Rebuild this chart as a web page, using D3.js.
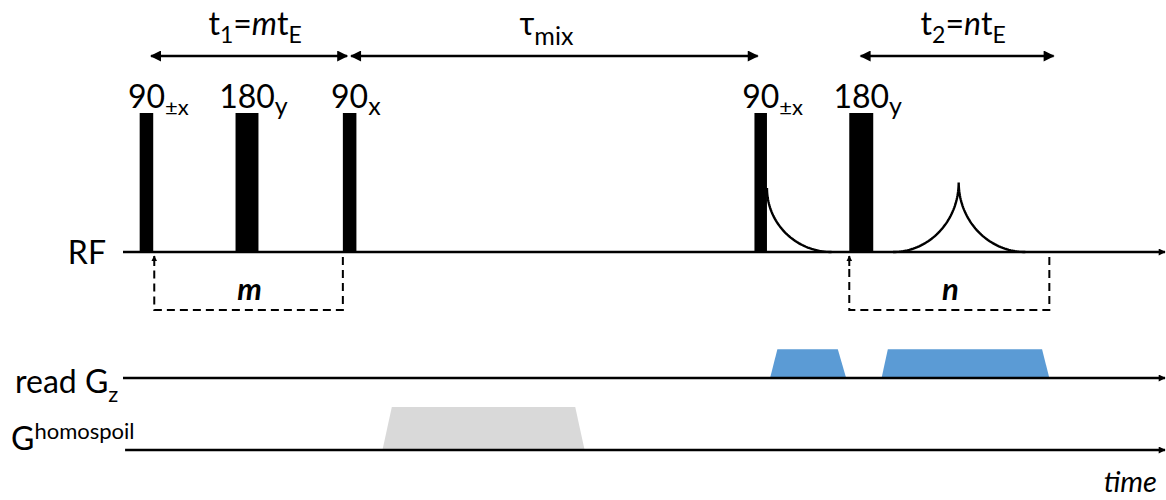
<!DOCTYPE html>
<html>
<head>
<meta charset="utf-8">
<script src="https://cdn.jsdelivr.net/npm/d3@7"></script>
<style>
  body { margin: 0; background: #fff; }
  text { font-family: Lato, "Open Sans", sans-serif; fill: #000; }
</style>
</head>
<body>
<script>
// time in arbitrary units, 0..100 along the axes
var pulseStart = [1.6, 10.8, 21.1, 60.6, 69.7]
var pulseEnd = [2.9, 13.0, 22.4, 61.8, 72.0]
var pulseAngle = ["90", "180", "90", "90", "180"]
var pulsePhase = ["±x", "y", "x", "±x", "y"]

var fid = [61.8, 68.0]      // start, end
var fidAmp = 0.46
var echo = [73.9, 80.2, 86.6] // start, peak, end
var echoAmp = 0.5

var readGrads = [[62.1, 62.8, 68.6, 69.4], [72.8, 73.4, 88.2, 88.9]]
var readAmp = 0.67
var spoilGrads = [[24.9, 25.8, 43.4, 44.3]]
var spoilAmp = 1

var spanFrom = [2.6, 21.8, 70.7]
var spanTo = [21.6, 61.0, 89.4]
var spanLabels = [["t", "1", "=", "m", "t", "E"], ["τ", "mix"], ["t", "2", "=", "n", "t", "E"]]

var loopFrom = [3.0, 69.7]
var loopTo = [21.1, 88.9]
var loopLabels = ["m", "n"]

var W = 1166, H = 500

var svg = d3.select("body")
.append("svg")
.attr("width", W)
.attr("height", H);

var x = d3.scaleLinear().domain([0, 100]).range([123, 1165])
var rfY = d3.scaleLinear().domain([0, 1]).range([252, 113])
var readY = d3.scaleLinear().domain([0, 1]).range([378, 335])
var spoilY = d3.scaleLinear().domain([0, 1]).range([450, 407])

var defs = svg.append("defs")

function marker(id, w, h) {
	defs.append("marker")
		.attr("id", id)
		.attr("viewBox", "0 0 10 10")
		.attr("refX", 9)
		.attr("refY", 5)
		.attr("markerUnits", "userSpaceOnUse")
		.attr("markerWidth", w)
		.attr("markerHeight", h)
		.attr("orient", "auto-start-reverse")
		.append("path")
		.attr("d", "M0,0L10,5L0,10z")
		.attr("fill", "#000");
}
marker("big", 12, 11)
marker("axis", 8, 7)
marker("small", 6, 6)

// gradient trapezoids first so the axes sit on top
function trap(rows, yScale, amp, color) {
	svg.selectAll(null)
		.data(rows)
		.enter()
		.append("path")
		.attr("fill", color)
		.attr("d", function(g) {
			return d3.line()([
				[x(g[0]), yScale(0)], [x(g[1]), yScale(amp)],
				[x(g[2]), yScale(amp)], [x(g[3]), yScale(0)]
			]) + "Z"
		});
}
trap(readGrads, readY, readAmp, "#5b9bd5")
trap(spoilGrads, spoilY, spoilAmp, "#d9d9d9")

// axes
var axisRows = [[rfY(0), 0], [readY(0), 0], [spoilY(0), 0.2]]
axisRows.forEach(function(r) {
	svg.append("line")
		.attr("x1", x(r[1]))
		.attr("x2", x(100))
		.attr("y1", r[0])
		.attr("y2", r[0])
		.attr("stroke", "#000")
		.attr("stroke-width", 2.4)
		.attr("marker-end", "url(#axis)");
})

// RF pulses
svg.selectAll(".pulse")
	.data(pulseStart)
	.enter()
	.append("rect")
	.attr("class", "pulse")
	.attr("x", function(d) { return x(d) })
	.attr("width", function(d, i) { return x(pulseEnd[i]) - x(d) })
	.attr("y", rfY(1))
	.attr("height", rfY(0) - rfY(1))
	.attr("fill", "#000");

pulseStart.forEach(function(d, i) {
	var cx = (x(d) + x(pulseEnd[i])) / 2
	var t = svg.append("text").attr("y", rfY(1) - 5).style("font-size", "32px")
	var main = t.append("tspan").text(pulseAngle[i])
	var len = main.node().getComputedTextLength()
	t.attr("x", cx - len / 2)
	t.append("tspan")
		.attr("dy", 7)
		.style("font-size", pulsePhase[i] == "±x" ? "22px" : "25px")
		.text(pulsePhase[i]);
})

// FID and echo drawn as quarter ellipses
var line = d3.line()
var q = d3.range(0, 1.0001, 0.02)

var fidPts = q.map(function(s) {
	var a = s * Math.PI / 2
	return [x(fid[1]) - (x(fid[1]) - x(fid[0])) * Math.cos(a),
		rfY(fidAmp) + (rfY(0) - rfY(fidAmp)) * Math.sin(a)]
})
svg.append("path").attr("d", line(fidPts))
	.attr("fill", "none").attr("stroke", "#000").attr("stroke-width", 2.4);

var echoUp = q.map(function(s) {
	var a = s * Math.PI / 2
	return [x(echo[0]) + (x(echo[1]) - x(echo[0])) * Math.sin(a),
		rfY(echoAmp) + (rfY(0) - rfY(echoAmp)) * Math.cos(a)]
})
var echoDown = q.map(function(s) {
	var a = s * Math.PI / 2
	return [x(echo[2]) - (x(echo[2]) - x(echo[1])) * Math.cos(a),
		rfY(echoAmp) + (rfY(0) - rfY(echoAmp)) * Math.sin(a)]
})
svg.append("path").attr("d", line(echoUp.concat(echoDown)))
	.attr("fill", "none").attr("stroke", "#000").attr("stroke-width", 2.4);

// timing spans on top
spanFrom.forEach(function(d, i) {
	svg.append("line")
		.attr("x1", x(d) + 1)
		.attr("x2", x(spanTo[i]) - 1)
		.attr("y1", 56)
		.attr("y2", 56)
		.attr("stroke", "#000")
		.attr("stroke-width", 2.4)
		.attr("marker-start", "url(#big)")
		.attr("marker-end", "url(#big)");

	var parts = spanLabels[i]
	var t = svg.append("text").attr("y", 35).style("font-size", "32px")
	parts.forEach(function(p, k) {
		var ts = t.append("tspan").text(p)
		if (parts.length == 2 && k == 1) ts.attr("dy", 10).style("font-size", "25px")
		if (parts.length == 6) {
			if (k == 1 || k == 5) ts.attr("dy", 8).style("font-size", "23px")
			if (k == 2) ts.attr("dy", -8)
			if (k == 3) ts.style("font-style", "italic")
		}
	})
	var w = t.node().getComputedTextLength()
	var shift = parts.length == 2 ? -8 : 6
	t.attr("x", (x(d) + x(spanTo[i])) / 2 - w / 2 + shift)
})

// dashed loop brackets under RF
loopFrom.forEach(function(d, i) {
	var g = svg.append("g")
		.attr("fill", "none")
		.attr("stroke", "#000")
		.attr("stroke-width", 2)
		.attr("stroke-dasharray", "8,5")
	g.append("path")
		.attr("d", "M" + x(loopTo[i]) + "," + (rfY(0) + 5) + "V310H" + x(d) + "V" + (rfY(0) + 14));
	svg.append("line")
		.attr("x1", x(d)).attr("x2", x(d))
		.attr("y1", rfY(0) + 14).attr("y2", rfY(0) + 4)
		.attr("stroke", "#000").attr("stroke-width", 2)
		.attr("marker-end", "url(#small)");
	svg.append("text")
		.attr("x", (x(d) + x(loopTo[i])) / 2 + 1)
		.attr("y", 300)
		.attr("text-anchor", "middle")
		.style("font-size", "31px")
		.style("font-weight", "bold")
		.style("font-style", "italic")
		.text(loopLabels[i]);
})

// row labels
svg.append("text").attr("x", 106).attr("y", 264).attr("text-anchor", "end")
	.style("font-size", "32px").text("RF");

var rl = svg.append("text").attr("x", 15).attr("y", 393).style("font-size", "32px")
rl.append("tspan").text("read G")
rl.append("tspan").attr("dy", 9).style("font-size", "22px").text("z")

var gl = svg.append("text").attr("x", 11).attr("y", 450).style("font-size", "32px")
gl.append("tspan").text("G")
gl.append("tspan").attr("dy", -11).style("font-size", "22px").text("homospoil")

svg.append("text").attr("x", 1157).attr("y", 492).attr("text-anchor", "end")
	.style("font-size", "29px").style("font-style", "italic").text("time");
</script>
</body>
</html>
